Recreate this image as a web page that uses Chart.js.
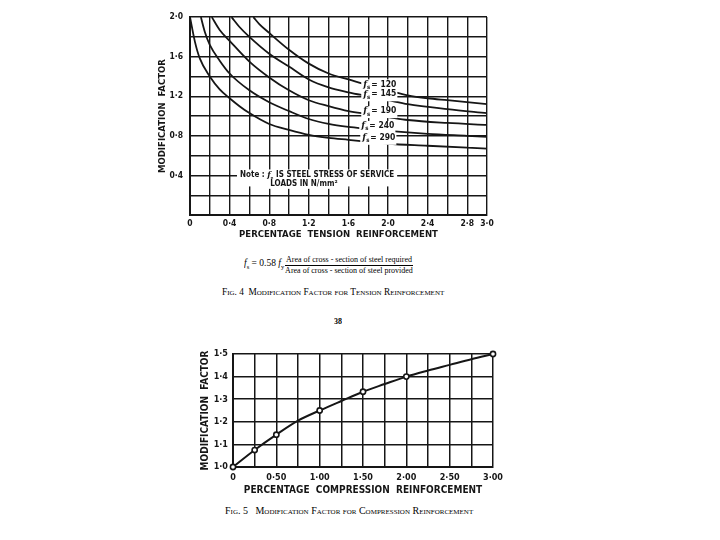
<!DOCTYPE html>
<html>
<head>
<meta charset="utf-8">
<script src="https://cdn.jsdelivr.net/npm/chart.js@4.4.1/dist/chart.umd.min.js"></script>
<style>
    body { margin: 0; background: #fff; width: 720px; height: 540px; position: relative; overflow: hidden; font-family: "Liberation Serif", "DejaVu Serif", serif; color: #000; }
    .abs { position: absolute; white-space: nowrap; opacity: 0.99; }
    #chart1 { left: 140px; top: 5px; }
    #chart2 { left: 190px; top: 340px; }
    .cap { font-variant: small-caps; font-size: 10px; }
    .frac { font-size: 8px; text-align: center; line-height: 10px; }
    .frac .num { border-bottom: 1px solid #000; padding: 0 1px; }
</style>
</head>
<body>
<canvas id="chart1" class="abs" width="360" height="240"></canvas>

<div class="abs" style="left:244px;top:258px;font-size:9.5px;"><i>f</i><sub style="font-size:6.5px">s</sub> = 0.58 <i>f</i><sub style="font-size:6.5px">y</sub></div>
<div class="abs frac" style="left:285px;top:255px;">
    <div class="num">Area of cross - section of steel required</div>
    <div>Area of cross - section of steel provided</div>
</div>
<div class="abs cap" style="left:222px;top:287px;font-size:9.3px;">Fig. 4&nbsp; Modification Factor for Tension Reinforcement</div>
<div class="abs" style="left:334px;top:317px;font-size:8px;font-weight:bold;">38</div>

<canvas id="chart2" class="abs" width="320" height="160"></canvas>
<div class="abs cap" style="left:225px;top:505px;">Fig. 5&nbsp;&nbsp; Modification Factor for Compression Reinforcement</div>

<script>
'use strict';

// ====== FIG. 4 DATA (tension reinforcement) ======
const stressLevels = ['120', '145', '190', '240', '290'];

const fs120X = [0.64, 0.7, 0.8, 1.0, 1.2, 1.4, 1.6, 1.8, 2.0, 2.2, 2.4, 2.6, 3.0];
const fs120Y = [2.0, 1.93, 1.84, 1.67, 1.53, 1.43, 1.37, 1.31, 1.26, 1.21, 1.18, 1.16, 1.12];

const fs145X = [0.42, 0.5, 0.6, 0.8, 1.0, 1.2, 1.4, 1.6, 1.8, 2.0, 2.2, 2.6, 3.0];
const fs145Y = [2.0, 1.9, 1.8, 1.63, 1.5, 1.37, 1.29, 1.24, 1.2, 1.16, 1.12, 1.07, 1.03];

const fs190X = [0.22, 0.3, 0.4, 0.6, 0.8, 1.0, 1.2, 1.4, 1.6, 1.8, 2.0, 2.2, 2.6, 3.0];
const fs190Y = [2.0, 1.87, 1.76, 1.55, 1.39, 1.26, 1.16, 1.1, 1.05, 1.02, 0.99, 0.96, 0.93, 0.91];

const fs240X = [0.11, 0.15, 0.2, 0.3, 0.4, 0.6, 0.8, 1.0, 1.2, 1.4, 1.6, 1.8, 2.0, 2.4, 2.8, 3.0];
const fs240Y = [2.0, 1.85, 1.72, 1.56, 1.43, 1.26, 1.14, 1.05, 0.97, 0.92, 0.89, 0.87, 0.85, 0.82, 0.8, 0.79];

const fs290X = [0, 0.05, 0.1, 0.2, 0.3, 0.4, 0.5, 0.6, 0.8, 1.0, 1.2, 1.4, 1.6, 1.8, 2.0, 2.4, 2.8, 3.0];
const fs290Y = [2.0, 1.75, 1.58, 1.4, 1.27, 1.18, 1.1, 1.03, 0.92, 0.86, 0.81, 0.78, 0.76, 0.74, 0.72, 0.7, 0.68, 0.67];

const tensionXTicks = [0, 0.4, 0.8, 1.2, 1.6, 2.0, 2.4, 2.8, 3.0];
const tensionXLabels = ['0', '0·4', '0·8', '1·2', '1·6', '2·0', '2·4', '2·8', '3·0'];
const tensionYTicks = [0.4, 0.8, 1.2, 1.6, 2.0];
const tensionYLabels = ['0·4', '0·8', '1·2', '1·6', '2·0'];

// ====== FIG. 5 DATA (compression reinforcement) ======
const compX = [0, 0.25, 0.5, 0.75, 1.0, 1.25, 1.5, 1.75, 2.0, 2.25, 2.5, 2.75, 3.0];
const compY = [1.0, 1.075, 1.143, 1.205, 1.25, 1.292, 1.333, 1.367, 1.4, 1.427, 1.452, 1.477, 1.5];
const compMarked = [0, 0.25, 0.5, 1.0, 1.5, 2.0, 3.0];

const compXTicks = [0, 0.5, 1.0, 1.5, 2.0, 2.5, 3.0];
const compXLabels = ['0', '0·50', '1·00', '1·50', '2·00', '2·50', '3·00'];
const compYTicks = [1.0, 1.1, 1.2, 1.3, 1.4, 1.5];
const compYLabels = ['1·0', '1·1', '1·2', '1·3', '1·4', '1·5'];

// ====== STYLE ======
const INK = '#141414';
const LETTERING = "'DejaVu Sans Condensed', 'DejaVu Sans', sans-serif";

Chart.defaults.color = INK;
Chart.defaults.font.family = LETTERING;

// ====== HELPERS ======
function tickLabel(values, labels) {
    return function (value) {
        const i = values.findIndex(v => Math.abs(v - value) < 1e-6);
        return i >= 0 ? labels[i] : '';
    };
}

function toPoints(xs, ys) {
    return xs.map((x, i) => ({ x, y: ys[i] }));
}

// draws "fs= 120" style text with a white box behind it
function drawStressLabel(ctx, left, cy, value) {
    ctx.font = "italic bold 9px 'DejaVu Serif', serif";
    const wF = ctx.measureText('f').width;
    ctx.font = 'bold 6px ' + LETTERING;
    const wS = ctx.measureText('s').width;
    ctx.font = 'bold 8.5px ' + LETTERING;
    const rest = '= ' + value;
    const wR = ctx.measureText(rest).width;
    ctx.fillStyle = '#fff';
    ctx.fillRect(left - 2, cy - 6, wF + wS + wR + 4, 12);
    ctx.fillStyle = INK;
    ctx.textBaseline = 'middle';
    ctx.textAlign = 'left';
    ctx.font = "italic bold 9px 'DejaVu Serif', serif";
    ctx.fillText('f', left, cy - 1);
    ctx.font = 'bold 6px ' + LETTERING;
    ctx.fillText('s', left + wF, cy + 2);
    ctx.font = 'bold 8.5px ' + LETTERING;
    ctx.fillText(rest, left + wF + wS + 1, cy - 1);
}

// ====== LABEL PLUGIN (curve labels + note) ======
const labelAnchorX = [1.75, 1.75, 1.75, 1.73, 1.74];
const labelAnchorY = [1.31, 1.21, 1.04, 0.89, 0.77];

const fig4Labels = {
    id: 'fig4Labels',
    afterDatasetsDraw(chart) {
        const { ctx, scales: { x, y } } = chart;
        ctx.save();
        stressLevels.forEach((s, i) => {
            drawStressLabel(ctx, x.getPixelForValue(labelAnchorX[i]), y.getPixelForValue(labelAnchorY[i]), s);
        });

        // note about steel stress
        const nx = x.getPixelForValue(0.505);
        const ny = y.getPixelForValue(0.4);
        ctx.font = 'bold 8px ' + LETTERING;
        const line1a = 'Note : ';
        const line1b = ' IS STEEL STRESS OF SERVICE';
        const wa = ctx.measureText(line1a).width;
        const wb = ctx.measureText(line1b).width;
        ctx.font = "italic bold 8px 'DejaVu Serif', serif";
        const wf = ctx.measureText('f').width;
        ctx.font = 'bold 5.5px ' + LETTERING;
        const ws = ctx.measureText('s').width;
        ctx.fillStyle = '#fff';
        ctx.fillRect(nx - 3, ny - 6, wa + wf + ws + wb + 6, 17);
        ctx.fillStyle = INK;
        ctx.textBaseline = 'middle';
        ctx.textAlign = 'left';
        ctx.font = 'bold 8px ' + LETTERING;
        ctx.fillText(line1a, nx, ny);
        ctx.font = "italic bold 8px 'DejaVu Serif', serif";
        ctx.fillText('f', nx + wa, ny);
        ctx.font = 'bold 5.5px ' + LETTERING;
        ctx.fillText('s', nx + wa + wf, ny + 3);
        ctx.font = 'bold 8px ' + LETTERING;
        ctx.fillText(line1b, nx + wa + wf + ws, ny);

        const lx = x.getPixelForValue(0.81);
        const ly = y.getPixelForValue(0.315);
        ctx.fillStyle = '#fff';
        ctx.fillRect(lx - 2, ly - 5, 80, 10);
        ctx.fillStyle = INK;
        ctx.fillText('LOADS IN N/mm²', lx, ly);
        ctx.restore();
    }
};

// ====== CHART: FIG. 4 ======
function initTensionChart() {
    const ctx = document.getElementById('chart1').getContext('2d');
    const series = [
        [fs120X, fs120Y], [fs145X, fs145Y], [fs190X, fs190Y], [fs240X, fs240Y], [fs290X, fs290Y]
    ];
    new Chart(ctx, {
        type: 'line',
        data: {
            datasets: series.map((s, i) => ({
                label: 'fs = ' + stressLevels[i],
                data: toPoints(s[0], s[1]),
                borderColor: INK,
                borderWidth: 1.8,
                pointRadius: 0,
                cubicInterpolationMode: 'monotone',
                fill: false
            }))
        },
        options: {
            responsive: false,
            animation: false,
            layout: { padding: { left: 0, right: 13, top: 10, bottom: 0 } },
            plugins: { legend: { display: false }, tooltip: { enabled: false } },
            scales: {
                x: {
                    type: 'linear', min: 0, max: 3,
                    afterFit(s) { s.height = 30; },
                    border: { display: true, color: INK, width: 2 },
                    grid: { color: INK, lineWidth: 1.4, drawTicks: false },
                    ticks: { stepSize: 0.2, autoSkip: false, maxRotation: 0, padding: 4,
                        font: { size: 8.5, weight: 'bold' }, callback: tickLabel(tensionXTicks, tensionXLabels) },
                    title: { display: true, text: 'PERCENTAGE  TENSION  REINFORCEMENT',
                        font: { size: 9.5, weight: 'bold' }, padding: { top: 0, bottom: 5 } }
                },
                y: {
                    type: 'linear', min: 0, max: 2,
                    afterFit(s) { s.width = 50; },
                    border: { display: true, color: INK, width: 2 },
                    grid: { color: INK, lineWidth: 1.4, drawTicks: false },
                    ticks: { stepSize: 0.2, autoSkip: false, padding: 7,
                        font: { size: 8.5, weight: 'bold' }, callback: tickLabel(tensionYTicks, tensionYLabels) },
                    title: { display: true, text: 'MODIFICATION  FACTOR',
                        font: { size: 9.5, weight: 'bold' }, padding: { top: 17, bottom: 0 } }
                }
            }
        },
        plugins: [fig4Labels]
    });
}

// ====== CHART: FIG. 5 ======
function initCompressionChart() {
    const ctx = document.getElementById('chart2').getContext('2d');
    const radii = compX.map(v => compMarked.some(m => Math.abs(m - v) < 1e-6) ? 2.6 : 0);
    new Chart(ctx, {
        type: 'line',
        data: {
            datasets: [{
                label: 'Modification factor',
                data: toPoints(compX, compY),
                borderColor: INK,
                borderWidth: 2,
                pointRadius: radii,
                pointBackgroundColor: '#fff',
                pointBorderColor: INK,
                pointBorderWidth: 1.6,
                cubicInterpolationMode: 'monotone',
                clip: false,
                fill: false
            }]
        },
        options: {
            responsive: false,
            animation: false,
            layout: { padding: { left: 0, right: 17, top: 14, bottom: 0 } },
            plugins: { legend: { display: false }, tooltip: { enabled: false } },
            scales: {
                x: {
                    type: 'linear', min: 0, max: 3,
                    afterFit(s) { s.height = 33; },
                    border: { display: true, color: INK, width: 2 },
                    grid: { color: INK, lineWidth: 1.5, drawTicks: false },
                    ticks: { stepSize: 0.25, autoSkip: false, maxRotation: 0, padding: 5,
                        font: { size: 9, weight: 'bold' }, callback: tickLabel(compXTicks, compXLabels) },
                    title: { display: true, text: 'PERCENTAGE  COMPRESSION  REINFORCEMENT',
                        font: { size: 10, weight: 'bold' }, padding: { top: 0, bottom: 4 } }
                },
                y: {
                    type: 'linear', min: 1, max: 1.5,
                    afterFit(s) { s.width = 43; },
                    border: { display: true, color: INK, width: 2 },
                    grid: { color: INK, lineWidth: 1.5, drawTicks: false },
                    ticks: { stepSize: 0.1, autoSkip: false, padding: 5,
                        font: { size: 9, weight: 'bold' }, callback: tickLabel(compYTicks, compYLabels) },
                    title: { display: true, text: 'MODIFICATION  FACTOR',
                        font: { size: 10, weight: 'bold' }, padding: { top: 9, bottom: 0 } }
                }
            }
        }
    });
}

initTensionChart();
initCompressionChart();
</script>
</body>
</html>
